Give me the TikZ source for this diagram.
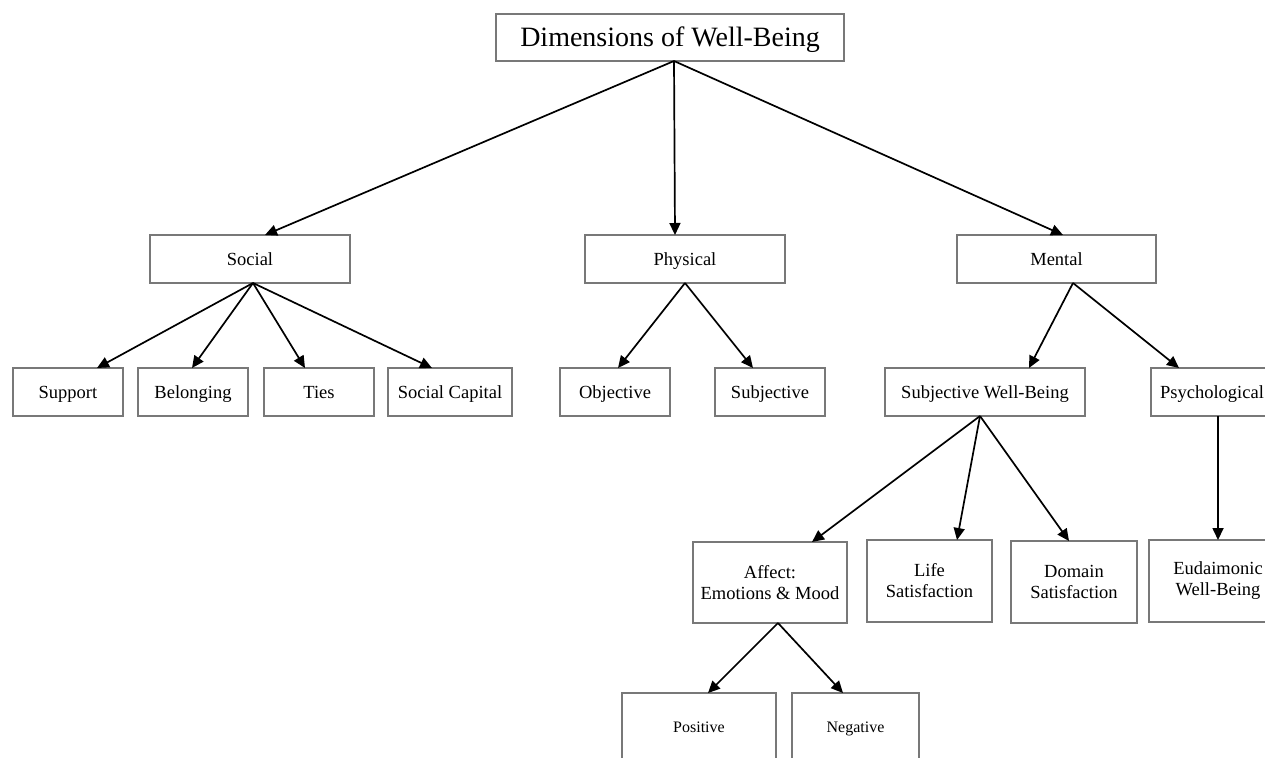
\documentclass[tikz,border=0pt]{standalone}
\usepackage{fontspec}
\setmainfont{Liberation Serif}
\usetikzlibrary{arrows.meta,calc}
\definecolor{boxgray}{RGB}{120,120,120}
\begin{document}
\begin{tikzpicture}[x=1pt,y=-1pt,
  box/.style={draw=boxgray,line width=1.3pt,fill=white,inner sep=0pt,outer sep=0pt,align=center,text=black},
  midtext/.style={font=\fontsize{18.5}{21}\selectfont},
  oneline/.style={text height=14pt,text depth=1pt},
  lowtext/.style={font=\fontsize{16}{19}\selectfont,text height=12.5pt,text depth=1pt},
  arr/.style={draw=black,line width=1.7pt,-{Triangle[length=12pt,width=11pt]}}]
\useasboundingbox (0,0) rectangle (1265,757);
\begin{scope}
\clip (0,0) rectangle (1265,757);
% level 0
\node[box,font=\fontsize{28}{32}\selectfont,minimum width=348,minimum height=47,text height=21pt,text depth=3pt] (top) at (670,37.5) {Dimensions of Well-Being};
% level 1
\node[box,midtext,oneline,minimum width=200,minimum height=48] (social) at (250,259) {Social};
\node[box,midtext,oneline,minimum width=200,minimum height=48] (physical) at (685,259) {Physical};
\node[box,midtext,oneline,minimum width=199,minimum height=48] (mental) at (1056.5,259) {Mental};
% level 2
\node[box,midtext,oneline,minimum width=110,minimum height=48] (support) at (68,392) {Support};
\node[box,midtext,oneline,minimum width=110,minimum height=48] (belonging) at (193,392) {Belonging};
\node[box,midtext,oneline,minimum width=110,minimum height=48] (ties) at (319,392) {Ties};
\node[box,midtext,oneline,minimum width=124,minimum height=48] (capital) at (450,392) {Social Capital};
\node[box,midtext,oneline,minimum width=110,minimum height=48] (objective) at (615,392) {Objective};
\node[box,midtext,oneline,minimum width=110,minimum height=48] (subjective) at (770,392) {Subjective};
\node[box,midtext,oneline,minimum width=200,minimum height=48] (swb) at (985,392) {Subjective Well-Being};
\node[box,midtext,oneline,minimum width=134,minimum height=48,text width=120] (psych) at (1218,392) {\hspace*{-12pt}Psychological};
% level 3
\node[box,midtext,minimum width=154,minimum height=81] (affect) at (770,582.5) {Affect:\\Emotions \& Mood};
\node[box,midtext,minimum width=125,minimum height=82] (life) at (929.5,581) {Life\\Satisfaction};
\node[box,midtext,minimum width=126,minimum height=82] (domain) at (1074,582) {Domain\\Satisfaction};
\node[box,midtext,minimum width=138,minimum height=82,text width=120] (eud) at (1218,581) {Eudaimonic\\Well-Being};
% level 4
\node[box,lowtext,minimum width=154,minimum height=68] (positive) at (699,727) {Positive};
\node[box,lowtext,minimum width=127,minimum height=68] (negative) at (855.5,727) {Negative};
% arrows
\draw[arr] ($(top.south)+(4,0)$) -- ($(social.north)+(15,0)$);
\draw[arr] ($(top.south)+(4,0)$) -- ($(physical.north)+(-10,0)$);
\draw[arr] ($(top.south)+(4,0)$) -- ($(mental.north)+(6.5,0)$);
\draw[arr] ($(social.south)+(3,0)$) -- ($(support.north)+(29,0)$);
\draw[arr] ($(social.south)+(3,0)$) -- ($(belonging.north)+(-1,0)$);
\draw[arr] ($(social.south)+(3,0)$) -- ($(ties.north)+(-14,0)$);
\draw[arr] ($(social.south)+(3,0)$) -- ($(capital.north)+(-18,0)$);
\draw[arr] (physical.south) -- ($(objective.north)+(3,0)$);
\draw[arr] (physical.south) -- ($(subjective.north)+(-17,0)$);
\draw[arr] ($(mental.south)+(16.5,0)$) -- ($(swb.north)+(44,0)$);
\draw[arr] ($(mental.south)+(16.5,0)$) -- ($(psych.north)+(-39,0)$);
\draw[arr] ($(swb.south)+(-5,0)$) -- ($(affect.north)+(42,0)$);
\draw[arr] ($(swb.south)+(-5,0)$) -- ($(life.north)+(27.5,0)$);
\draw[arr] ($(swb.south)+(-5,0)$) -- ($(domain.north)+(-5,0)$);
\draw[arr] (psych.south) -- (eud.north);
\draw[arr] ($(affect.south)+(8,0)$) -- ($(positive.north)+(9,0)$);
\draw[arr] ($(affect.south)+(8,0)$) -- ($(negative.north)+(-12.5,0)$);
\end{scope}
\end{tikzpicture}
\end{document}
